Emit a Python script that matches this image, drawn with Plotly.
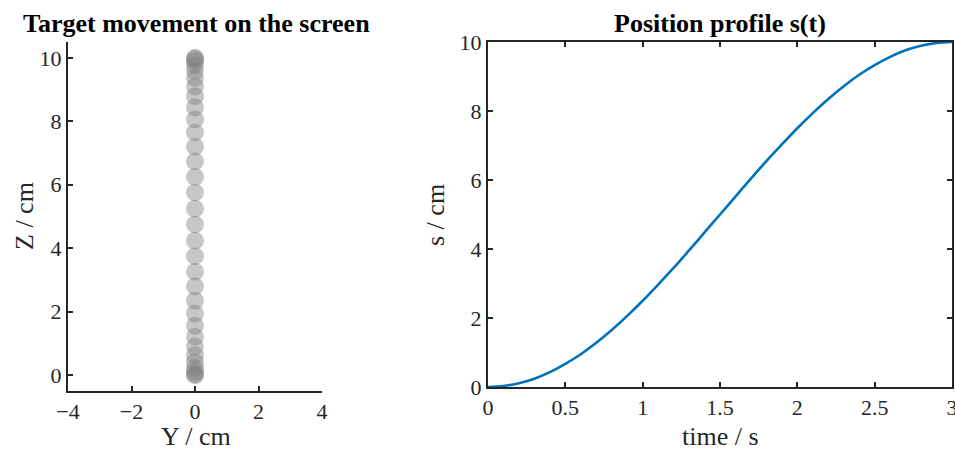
import plotly.graph_objects as go

# Left panel: target positions (Y fixed at 0, Z along the screen)
target_y = [0.0] * 32
target_z = [0.00, 0.03, 0.10, 0.23, 0.41, 0.63, 0.90, 1.21, 1.56, 1.94, 2.35,
            2.80, 3.26, 3.75, 4.24, 4.75, 5.25, 5.76, 6.25, 6.74, 7.20, 7.65,
            8.06, 8.44, 8.79, 9.10, 9.37, 9.59, 9.77, 9.90, 9.97, 10.00]

# Right panel: position profile s(t)
time_s = [0.0, 0.1, 0.2, 0.3, 0.4, 0.5, 0.6, 0.7, 0.8, 0.9, 1.0, 1.1, 1.2, 1.3,
          1.4, 1.5, 1.6, 1.7, 1.8, 1.9, 2.0, 2.1, 2.2, 2.3, 2.4, 2.5, 2.6, 2.7,
          2.8, 2.9, 3.0]
pos_s = [0.00, 0.03, 0.11, 0.24, 0.43, 0.67, 0.95, 1.28, 1.65, 2.06, 2.50,
         2.97, 3.45, 3.96, 4.48, 5.00, 5.52, 6.04, 6.55, 7.03, 7.50, 7.94,
         8.35, 8.72, 9.05, 9.33, 9.57, 9.76, 9.89, 9.97, 10.00]

left_xticks = [-4, -2, 0, 2, 4]
left_yticks = [0, 2, 4, 6, 8, 10]
right_xticks = [0, 0.5, 1, 1.5, 2, 2.5, 3]
right_yticks = [0, 2, 4, 6, 8, 10]

FONT = "Liberation Serif"
AXC = "#262626"
W, H = 955, 450
TICK_SIZE = 22
TITLE_SIZE = 26
LABEL_SIZE = 26

fig = go.Figure()
fig.add_trace(go.Scatter(
    x=target_y, y=target_z, mode="markers", xaxis="x", yaxis="y",
    marker=dict(size=18, color="rgba(128,128,128,0.44)", line=dict(width=0)),
    showlegend=False, hoverinfo="skip", cliponaxis=False))
fig.add_trace(go.Scatter(
    x=time_s, y=pos_s, mode="lines", xaxis="x2", yaxis="y2",
    line=dict(color="#0072BD", width=2.6, shape="spline"),
    showlegend=False, hoverinfo="skip"))

axis_common = dict(showgrid=False, zeroline=False, showline=True, linecolor=AXC,
                   linewidth=2, ticks="inside", ticklen=5, tickwidth=1.5,
                   tickcolor=AXC, automargin=False, ticklabeloverflow="allow",
                   tickfont=dict(family=FONT, size=TICK_SIZE, color=AXC))

fig.update_layout(
    width=W, height=H, margin=dict(l=0, r=0, t=0, b=0, pad=0, autoexpand=False),
    paper_bgcolor="white", plot_bgcolor="white",
    xaxis=dict(domain=[68 / W, 322 / W], range=[-4, 4], tickvals=left_xticks,
               anchor="y", **axis_common),
    yaxis=dict(domain=[(H - 391) / H, (H - 42) / H], range=[-0.5, 10.5],
               tickvals=left_yticks, anchor="x", **axis_common),
    xaxis2=dict(domain=[488 / W, 952 / W], range=[0, 3], tickvals=right_xticks,
                ticktext=["0", "0.5", "1", "1.5", "2", "2.5", "3"],
                anchor="y2", mirror="ticks", **axis_common),
    yaxis2=dict(domain=[(H - 387) / H, (H - 42) / H], range=[0, 10],
                tickvals=right_yticks, anchor="x2", mirror="ticks", **axis_common),
)

ann = [
    dict(text="<b>Target movement on the screen</b>", x=196 / W, y=(H - 23) / H, size=TITLE_SIZE, angle=0),
    dict(text="<b>Position profile s(t)</b>", x=720 / W, y=(H - 23) / H, size=TITLE_SIZE, angle=0),
    dict(text="Y / cm", x=196 / W, y=(H - 436) / H, size=LABEL_SIZE, angle=0),
    dict(text="time / s", x=720 / W, y=(H - 436) / H, size=LABEL_SIZE, angle=0),
    dict(text="Z / cm", x=24 / W, y=(H - 216) / H, size=LABEL_SIZE, angle=-90),
    dict(text="s / cm", x=436 / W, y=(H - 215) / H, size=LABEL_SIZE, angle=-90),
]
for a in ann:
    fig.add_annotation(text=a["text"], x=a["x"], y=a["y"], xref="paper", yref="paper",
                       xanchor="center", yanchor="middle", showarrow=False,
                       textangle=a["angle"],
                       font=dict(family=FONT, size=a["size"], color="black" if "<b>" in a["text"] else AXC))

fig.write_html("out.html", config={"displayModeBar": False},
               post_script="document.body.style.margin='0';document.body.style.overflow='hidden';")
